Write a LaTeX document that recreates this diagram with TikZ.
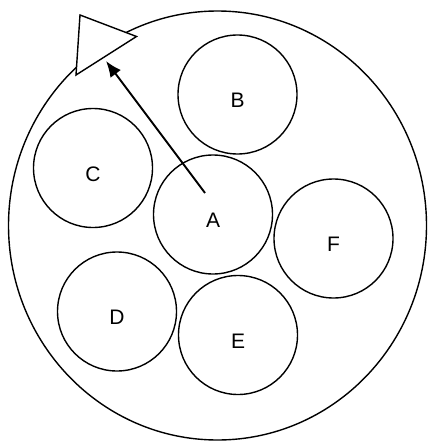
\documentclass[tikz,border=0pt]{standalone}
\usepackage{fontspec}
\setmainfont{Liberation Sans}
\usetikzlibrary{arrows.meta}
\begin{document}
\begin{tikzpicture}[x=1pt,y=-1pt,
  ball/.style={draw,circle,line width=1.4pt,minimum size=119pt,inner sep=0pt},
  lab/.style={font=\fontsize{21}{25}\selectfont,inner sep=0pt},
  thick line/.style={line width=1.4pt}]
\useasboundingbox (0,0) rectangle (428,441);
\draw[thick line] (217.5,225.5) ellipse [x radius=209, y radius=214.5];
\node[ball] (B) at (237.5,94.5) {};
\node[ball] (C) at (93,168) {};
\node[ball] (A) at (213,214.5) {};
\node[ball] (F) at (333.5,238.5) {};
\node[ball] (D) at (117,311.5) {};
\node[ball] (E) at (238,335) {};
\node[lab] at ([yshift=-6pt]B.center) {B};
\node[lab] at ([yshift=-6pt]C.center) {C};
\node[lab] at ([yshift=-6pt]A.center) {A};
\node[lab] at ([yshift=-6pt]F.center) {F};
\node[lab] at ([yshift=-6pt]D.center) {D};
\node[lab] at ([yshift=-6pt]E.center) {E};
\coordinate (t1) at (80,15);
\coordinate (t2) at (136.5,36.5);
\coordinate (t3) at (76,75);
\fill[white] (t1) -- (t2) -- (t3) -- cycle;
\draw[thick line,line join=miter] (t1) -- (t2) -- (t3) -- cycle;
\coordinate (s) at (205,193);
\coordinate (tip) at (106,61);
\draw[line width=1.9pt,-{Latex[length=16pt,width=13pt]}] (s) -- (tip);
\end{tikzpicture}
\end{document}
